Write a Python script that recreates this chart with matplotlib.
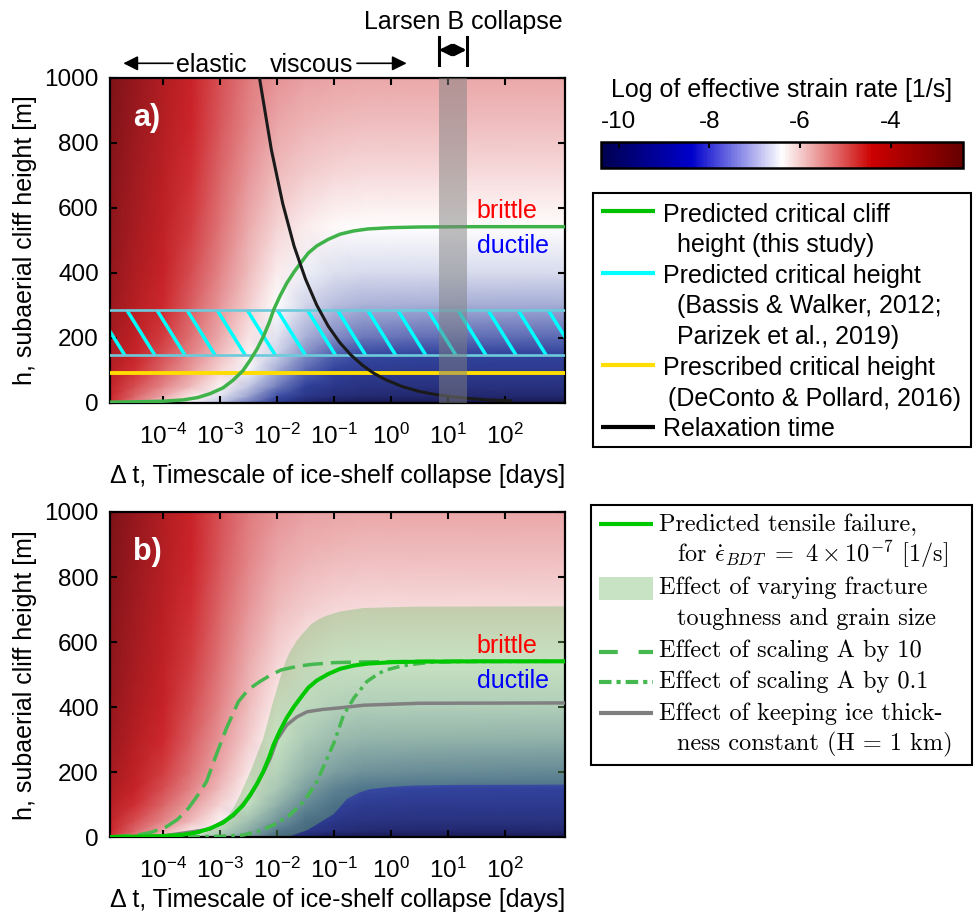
import numpy as np
import matplotlib
matplotlib.use("Agg")
import matplotlib.pyplot as plt
import matplotlib.transforms as mtransforms
from matplotlib.colors import LinearSegmentedColormap, Normalize
from matplotlib.cm import ScalarMappable
from matplotlib.patches import Rectangle
from matplotlib.ticker import NullLocator

plt.rcParams["font.family"] = ["Liberation Sans", "DejaVu Sans"]
plt.rcParams["mathtext.fontset"] = "custom"
plt.rcParams["mathtext.rm"] = "Liberation Sans"
plt.rcParams["mathtext.it"] = "Liberation Sans:italic"
plt.rcParams["mathtext.bf"] = "Liberation Sans:bold"
plt.rcParams["axes.unicode_minus"] = False

FIG_W, FIG_H = 977, 919

# ---------------- data ----------------
# timescales are given as log10(days); axis runs from 1 s to 1e8 s
x_range_log = [-4.937, 3.063]
x_ticks_log = [-4, -3, -2, -1, 0, 1, 2]
h_ticks = [0, 200, 400, 600, 800, 1000]

# log10 effective strain rate [1/s] on a coarse (h, dt) grid
field_logdt = [-4.94, -4.5, -4.0, -3.5, -3.0, -2.5, -2.0, -1.5, -1.0, -0.5, 0.5, 3.07]
field_h = [0, 20, 50, 100, 150, 200, 300, 400, 540, 700, 850, 1000]
field_rate = [
    [-4.50, -5.20, -5.90, -6.50, -7.00, -7.80, -8.90, -9.80, -10.3, -10.4, -10.4, -10.4],
    [-4.40, -5.00, -5.60, -6.20, -6.70, -7.40, -8.30, -9.00, -9.40, -9.60, -9.70, -9.70],
    [-4.20, -4.80, -5.30, -5.80, -6.30, -7.00, -7.80, -8.60, -9.00, -9.20, -9.25, -9.25],
    [-3.95, -4.50, -5.00, -5.50, -6.00, -6.50, -7.30, -8.00, -8.50, -8.80, -8.90, -8.90],
    [-3.75, -4.30, -4.80, -5.30, -5.80, -6.30, -6.90, -7.60, -8.10, -8.35, -8.45, -8.50],
    [-3.60, -4.15, -4.65, -5.15, -5.65, -6.17, -6.70, -7.25, -7.65, -7.85, -7.95, -8.00],
    [-3.40, -3.95, -4.45, -4.95, -5.45, -5.95, -6.43, -6.85, -7.10, -7.22, -7.27, -7.28],
    [-3.25, -3.80, -4.30, -4.80, -5.30, -5.80, -6.23, -6.56, -6.72, -6.78, -6.80, -6.80],
    [-3.10, -3.65, -4.15, -4.65, -5.15, -5.62, -6.00, -6.24, -6.35, -6.38, -6.40, -6.40],
    [-3.00, -3.52, -4.03, -4.52, -5.00, -5.45, -5.78, -5.95, -6.03, -6.06, -6.06, -6.06],
    [-2.90, -3.40, -3.93, -4.43, -4.90, -5.30, -5.60, -5.74, -5.79, -5.81, -5.81, -5.81],
    [-2.80, -3.30, -3.85, -4.35, -4.82, -5.20, -5.43, -5.55, -5.58, -5.60, -5.60, -5.60],
]
cbar_range = [-10.4, -2.4]
cbar_ticks = [-10, -8, -6, -4]

# predicted critical cliff height (this study)
crit_logdt = [-4.94, -4.5, -4.0, -3.65, -3.4, -3.18, -2.95, -2.77, -2.6, -2.47, -2.35, -2.24,
              -2.14, -2.06, -1.95, -1.83, -1.7, -1.59, -1.45, -1.3, -1.1, -0.89, -0.65,
              -0.4, 0.0, 0.5, 1.5, 3.07]
crit_h = [1, 2, 4, 8, 15, 27, 45, 69, 98, 131, 165, 203, 245, 285, 327, 367, 402, 428, 460,
          482, 502, 518, 528, 534, 538, 540, 541, 541]

# relaxation time
relax_logdt = [-2.31, -2.1, -1.9, -1.7, -1.5, -1.3, -1.1, -0.9, -0.7, -0.5, -0.3, -0.1, 0.2,
               0.5, 0.8, 1.1, 1.4, 1.7, 2.0, 2.1]
relax_h = [1000, 778, 612, 481, 380, 299, 235, 185, 146, 115, 90, 71, 49, 34, 24, 17, 12, 8.3,
           6.0, 5.5]

bassis_h = [145, 285]
deconto_h = 90
larsen_days = [7.0, 21.5]

# panel b
scale10_logdt = [-4.94, -4.44, -4.2, -3.94, -3.75, -3.56, -3.4, -3.24, -3.07, -2.89, -2.68,
                 -2.5, -2.3, -2.1, -1.92, -1.6, -1.36, -1.0, -0.5, 0.5, 3.07]
scale10_h = [1, 7, 16, 33, 55, 89, 128, 171, 253, 335, 417, 455, 479, 500, 515, 527, 532,
             537, 539, 541, 541]

scale01_logdt = [-4.94, -3.7, -3.0, -2.59, -2.3, -2.06, -1.8, -1.59, -1.45, -1.3, -1.15,
                 -1.0, -0.83, -0.65, -0.42, -0.2, -0.07, 0.2, 0.4, 0.7, 1.2, 3.07]
scale01_h = [0, 1, 3, 7, 20, 38, 65, 99, 130, 171, 230, 290, 376, 428, 479, 505, 515, 527,
             532, 538, 540, 541]

constH_logdt = [-4.94, -4.0, -3.18, -2.77, -2.47, -2.24, -2.12, -2.0, -1.83, -1.65, -1.47,
                -1.2, -0.89, -0.48, 0.5, 3.07]
constH_h = [1, 4, 25, 66, 128, 200, 243, 300, 345, 370, 386, 393, 398, 406, 412, 413]

band_top_logdt = [-4.94, -3.6, -3.35, -3.1, -2.94, -2.78, -2.65, -2.45, -2.24, -2.08, -1.92,
                  -1.85, -1.78, -1.65, -1.52, -1.4, -1.25, -1.12, -0.89, -0.48, 0.4, 3.07]
band_top_h = [0, 3, 8, 25, 48, 85, 130, 210, 305, 410, 505, 540, 568, 605, 632, 655, 672,
              682, 694, 705, 709, 710]
band_bot_logdt = [-4.94, -1.83, -1.47, -1.25, -1.0, -0.77, -0.55, -0.36, 0.0, 0.4, 1.0, 3.07]
band_bot_h = [0, 0, 22, 45, 72, 118, 138, 148, 155, 159, 161, 162]

# ---------------- styling ----------------
strain_cmap = LinearSegmentedColormap.from_list(
    "strain",
    [(0.0, (0.0, 0.0, 0.31)), (0.25, (0.0, 0.0, 0.80)), (0.5, (1.0, 1.0, 1.0)),
     (0.75, (0.80, 0.0, 0.0)), (1.0, (0.40, 0.0, 0.0))])
# the image inside the panels is rendered in softer tones than the colour bar
field_cmap = LinearSegmentedColormap.from_list(
    "strain_field",
    [(0.0, (0.10, 0.10, 0.33)), (0.25, (0.20, 0.27, 0.63)), (0.5, (1.0, 1.0, 1.0)),
     (0.75, (0.80, 0.14, 0.16)), (1.0, (0.42, 0.06, 0.08))])
norm = Normalize(vmin=cbar_range[0], vmax=cbar_range[1])

GREEN_A = "#3fb34a"
GREEN_B = "#00c800"
GREEN_DASH = "#45b84f"
CYAN = "#00ffff"
CYAN_EDGE = "#6ccadb"
YELLOW = "#ffdd00"
GRAY = "#808080"
BAND = (0.46, 0.73, 0.41)
FS = 17.5


def rect(left, top, right, bottom):
    return [left / FIG_W, 1 - bottom / FIG_H, (right - left) / FIG_W, (bottom - top) / FIG_H]


def days(logs):
    return 10.0 ** np.asarray(logs, dtype=float)


def setup_axis(ax, xlabel_y):
    ax.pcolormesh(days(field_logdt), field_h, np.array(field_rate), shading="gouraud",
                  cmap=field_cmap, norm=norm, zorder=0, rasterized=True)
    ax.set_xscale("log")
    ax.set_xlim(days(x_range_log))
    ax.set_ylim(0, 1000)
    ax.set_xticks(days(x_ticks_log), labels=[f"$10^{{{k}}}$" for k in x_ticks_log])
    ax.xaxis.set_minor_locator(NullLocator())
    ax.set_yticks(h_ticks)
    ax.tick_params(direction="in", length=5, width=1.5, top=True, right=True, labelsize=FS)
    ax.tick_params(axis="x", pad=15)
    ax.tick_params(axis="y", pad=8)
    for sp in ax.spines.values():
        sp.set_linewidth(1.6)
    ax.set_xlabel("\u0394 t, Timescale of ice-shelf collapse [days]", fontsize=18)
    ax.xaxis.set_label_coords(0.5, xlabel_y)
    ax.set_ylabel("h, subaerial cliff height [m]", fontsize=18)
    ax.yaxis.set_label_coords(-0.16, 0.5)
    ax.text(0.806, 0.568, "brittle", color="#ff0000", fontsize=18, transform=ax.transAxes,
            va="baseline", zorder=8)
    ax.text(0.806, 0.459, "ductile", color="#0000ff", fontsize=18, transform=ax.transAxes,
            va="baseline", zorder=8)


fig = plt.figure(figsize=(FIG_W / 100, FIG_H / 100), dpi=100)
ax_a = fig.add_axes(rect(110, 77.5, 565, 402.5))
ax_b = fig.add_axes(rect(110, 512, 565, 837.3))
cax = fig.add_axes(rect(600.7, 141.7, 963.3, 168.3))
ov = fig.add_axes([0, 0, 1, 1], zorder=20)
ov.set_xlim(0, FIG_W)
ov.set_ylim(FIG_H, 0)
ov.set_axis_off()

# ---------------- panel a ----------------
setup_axis(ax_a, -0.19)
# hatched band of Bassis & Walker / Parizek
y0, y1 = bassis_h[0] / 1000, bassis_h[1] / 1000
for k in range(-2, 16):
    xt = (16.7 + 30.1 * k) / 455
    ax_a.plot([xt, xt + 28.3 / 455], [y1, y0], transform=ax_a.transAxes, color=CYAN, lw=2.5,
              solid_capstyle="butt", zorder=2)
for hb in bassis_h:
    ax_a.axhline(hb, color=CYAN_EDGE, lw=1.9, zorder=3)
ax_a.axhline(deconto_h, color=YELLOW, lw=2.8, zorder=3)
ax_a.plot(days(crit_logdt), crit_h, color=GREEN_A, lw=2.5, zorder=4)
ax_a.plot(days(relax_logdt), relax_h, color="#1a1a1a", lw=2.2, zorder=5)
ax_a.axvspan(larsen_days[0], larsen_days[1], color="#808080", alpha=0.5, lw=0, zorder=6)
ax_a.text(0.05, 0.851, "a)", color="white", fontsize=22, fontweight="bold",
          transform=ax_a.transAxes, va="baseline", zorder=8)

# Larsen B marker above the axes
blend = mtransforms.blended_transform_factory(ax_a.transData, ax_a.transAxes)
for xd in larsen_days:
    ax_a.plot([xd, xd], [1.0385, 1.1255], transform=blend, color="k", lw=2.2, clip_on=False)
ax_a.annotate("", xy=(larsen_days[0], 1.0846), xytext=(larsen_days[1], 1.0846),
              xycoords=blend, textcoords=blend,
              arrowprops=dict(arrowstyle="<|-|>", color="k", lw=2.2, mutation_scale=17,
                              shrinkA=0, shrinkB=0))

# ---------------- panel b ----------------
setup_axis(ax_b, -0.155)
band_x = np.concatenate([days(band_top_logdt), days(band_bot_logdt)[::-1]])
band_y = np.concatenate([band_top_h, band_bot_h[::-1]])
ax_b.fill(band_x, band_y, color=BAND, alpha=0.4, lw=0, zorder=2)
ax_b.plot(days(constH_logdt), constH_h, color=GRAY, lw=2.5, zorder=3)
ax_b.plot(days(scale01_logdt), scale01_h, color=GREEN_DASH, lw=2.5,
          linestyle=(0, (3.5, 1.5, 1.0, 1.5)), zorder=4)
ax_b.plot(days(scale10_logdt), scale10_h, color=GREEN_DASH, lw=2.5,
          linestyle=(0, (5.8, 2.3)), zorder=4)
ax_b.plot(days(crit_logdt), crit_h, color=GREEN_B, lw=2.9, zorder=5)
ax_b.text(0.05, 0.851, "b)", color="white", fontsize=22, fontweight="bold",
          transform=ax_b.transAxes, va="baseline", zorder=8)

# ---------------- colorbar ----------------
sm = ScalarMappable(norm=norm, cmap=strain_cmap)
cb = fig.colorbar(sm, cax=cax, orientation="horizontal")
cb.set_ticks(cbar_ticks)
cb.outline.set_linewidth(1.8)
cax.xaxis.set_ticks_position("top")
cax.tick_params(direction="in", length=4, width=1.5, labelsize=FS, pad=6)
ov.text(782, 96.7, "Log of effective strain rate [1/s]", fontsize=18, ha="center",
        va="baseline")

# ---------------- top annotations ----------------
ov.annotate("", xy=(123.3, 63.3), xytext=(173, 63.3),
            arrowprops=dict(arrowstyle="-|>", color="k", lw=1.2, mutation_scale=22,
                            shrinkA=0, shrinkB=0))
ov.annotate("", xy=(406.7, 63.3), xytext=(357, 63.3),
            arrowprops=dict(arrowstyle="-|>", color="k", lw=1.2, mutation_scale=22,
                            shrinkA=0, shrinkB=0))
ov.text(211, 71.7, "elastic", fontsize=18, ha="center", va="baseline")
ov.text(312, 71.7, "viscous", fontsize=18, ha="center", va="baseline")
ov.text(463, 29, "Larsen B collapse", fontsize=18, ha="center", va="baseline")

# ---------------- legend a ----------------
ov.add_patch(Rectangle((593.3, 193.3), 377.4, 253.4, fill=False, ec="k", lw=1.5))
leg_a_lines = [(211, "#00c000"), (272.7, CYAN), (365, YELLOW), (426.7, "k")]
for yl, col in leg_a_lines:
    ov.plot([600.7, 655], [yl, yl], color=col, lw=3.0, solid_capstyle="butt")
leg_a_text = [
    (662.7, 221.7, "Predicted critical cliff"),
    (676.7, 251.7, "height (this study)"),
    (662.7, 282.7, "Predicted critical height"),
    (676.7, 313.3, "(Bassis & Walker, 2012;"),
    (677.3, 344.3, "Parizek et al., 2019)"),
    (662.7, 375.0, "Prescribed critical height"),
    (668.3, 405.7, "(DeConto & Pollard, 2016)"),
    (662.7, 435.7, "Relaxation time"),
]
for xt, yt, s in leg_a_text:
    ov.text(xt, yt, s, fontsize=18, va="baseline")

# ---------------- legend b ----------------
ov.add_patch(Rectangle((591, 505), 380.7, 260, fill=False, ec="k", lw=1.5))
ov.plot([599.3, 653.3], [524.3, 524.3], color=GREEN_B, lw=3.0, solid_capstyle="butt")
ov.add_patch(Rectangle((599.3, 577.3), 54, 22.7, color=BAND, alpha=0.4, lw=0))
ov.plot([599.3, 653.3], [651.7, 651.7], color=GREEN_DASH, lw=3.0,
        linestyle=(0, (4.5, 5.0)))
ov.plot([599.3, 653.3], [682.3, 682.3], color=GREEN_DASH, lw=3.0,
        linestyle=(0, (3.0, 1.2, 1.0, 1.2)))
ov.plot([599.3, 653.3], [713.3, 713.3], color=GRAY, lw=3.0, solid_capstyle="butt")
leg_b_text = [
    (659, 531.7, "Predicted tensile failure,"),
    (676.7, 561.7, r"for $\dot{\epsilon}_{BDT}\ =\ 4\times 10^{-7}$ [1/s]"),
    (659, 594.3, "Effect of varying fracture"),
    (676.7, 625.0, "toughness and grain size"),
    (659, 656.7, "Effect of scaling A by 10"),
    (659, 688.3, "Effect of scaling A by 0.1"),
    (659, 720.0, "Effect of keeping ice thick-"),
    (676.7, 750.0, "ness constant (H = 1 km)"),
]
for xt, yt, s in leg_b_text:
    ov.text(xt, yt, s, fontsize=17.5, va="baseline", family=["cmr10", "DejaVu Serif"],
            math_fontfamily="cm")

fig.savefig("out.png", dpi=100)
